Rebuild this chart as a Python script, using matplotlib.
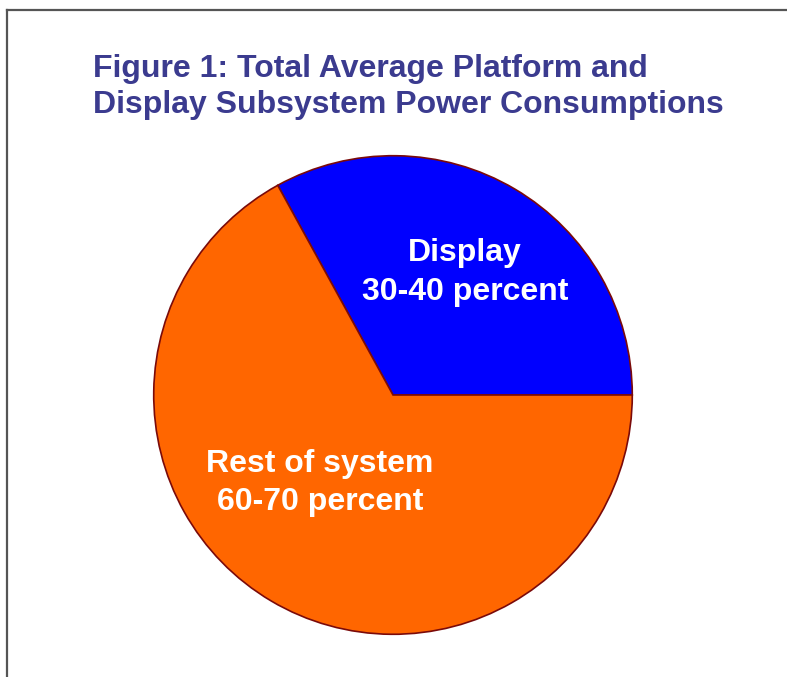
import matplotlib.pyplot as plt
from matplotlib.lines import Line2D

labels = ['Display\n30-40 percent', 'Rest of system\n60-70 percent']
shares = [33, 67]
colors = ['#0000ff', '#ff6600']
label_pos = [(0.30, 0.512), (-0.306, -0.367)]

plt.rcParams['font.family'] = ['Liberation Sans', 'DejaVu Sans']

fig = plt.figure(figsize=(7.87, 6.77), dpi=100)
ax = fig.add_axes([153/787, 42/677, 480/787, 480/677])

ax.pie(shares, colors=colors, startangle=0, counterclock=True, radius=1,
       wedgeprops=dict(edgecolor='#7a0a0a', linewidth=1.2))
for txt, (x, y) in zip(labels, label_pos):
    ax.text(x, y, txt, color='white', fontsize=23, fontweight='bold',
            ha='center', va='center', linespacing=1.37)
ax.set_xlim(-1.003, 1.003)
ax.set_ylim(-1.003, 1.003)
ax.set_aspect('equal')
ax.axis('off')

fig.text(93/787, 1 - 54/677, 'Figure 1: Total Average Platform and\nDisplay Subsystem Power Consumptions',
         color='#3b3b8f', fontsize=23, fontweight='bold', ha='left', va='top', linespacing=1.27)

# frame lines at left and top
fig.add_artist(Line2D([7/787, 7/787], [0, 1 - 10/677], color='#555555', lw=1.6))
fig.add_artist(Line2D([7/787, 1], [1 - 10/677, 1 - 10/677], color='#555555', lw=1.6))

fig.savefig('out.png', dpi=100)
